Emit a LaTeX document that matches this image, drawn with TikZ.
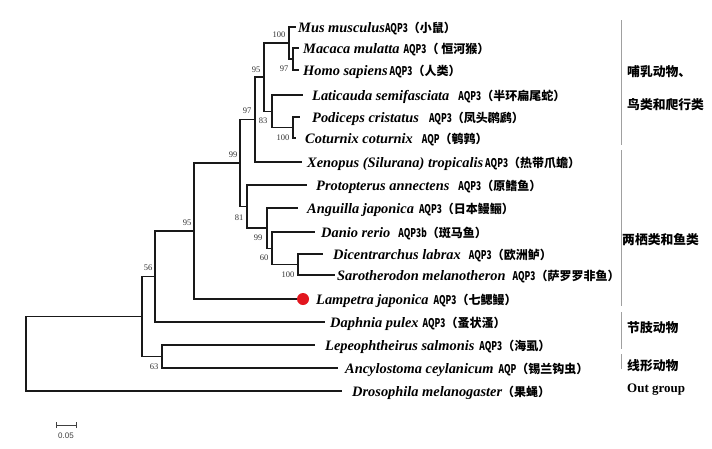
\documentclass[tikz,border=0pt]{standalone}
\usepackage{fontspec}
\setmainfont{Liberation Serif}
\newfontfamily\cjk{Noto Sans CJK SC}
\newfontfamily\lsans{Liberation Sans}
\newcommand\spn[1]{{\fontsize{14.4}{16}\selectfont\bfseries\itshape #1}}
\newcommand\aqp[1]{{\fontsize{12}{13}\selectfont\cjk\bfseries\scalebox{0.7}[1]{#1}}}
\newcommand\zhn[1]{{\fontsize{12}{13}\selectfont\cjk\bfseries #1}}
\definecolor{dotred}{RGB}{226,22,30}
\definecolor{brgray}{RGB}{160,160,160}
\begin{document}
\begin{tikzpicture}[x=1pt,y=-1pt,
  br/.style={line width=1.2pt, black!90},
  leaf/.style={anchor=base west, inner sep=0pt},
  bs/.style={font=\fontsize{8.5}{9}\selectfont, inner sep=0pt, text=black!80},
  grp/.style={anchor=west, inner sep=0pt, font=\cjk\bfseries\fontsize{12.8}{14}\selectfont},
  brk/.style={line width=0.8pt, brgray}]
\useasboundingbox[fill=white] (0,0) rectangle (712,448);

% internal nodes
\coordinate (root) at (26,353.75);
\coordinate (n56) at (142,316.5);
\coordinate (n95b) at (155,276.5);
\coordinate (n63) at (162,356.5);
\coordinate (n95a) at (194,231);
\coordinate (n99) at (240,163);
\coordinate (n97) at (255,119.5);
\coordinate (n95u) at (264,77);
\coordinate (n100m) at (289,43);
\coordinate (n97m) at (293,59);
\coordinate (n83) at (272,111.25);
\coordinate (n100b) at (293,127.5);
\coordinate (n81) at (247,206.5);
\coordinate (n99f) at (267,228);
\coordinate (n60) at (272,248.25);
\coordinate (n100f) at (298,264.5);

% tips
\coordinate (eMus) at (296,27);
\coordinate (eMac) at (299,48);
\coordinate (eHom) at (299,70);
\coordinate (eLat) at (303,95);
\coordinate (ePod) at (300,117);
\coordinate (eCot) at (296,138);
\coordinate (eXen) at (302,162);
\coordinate (ePro) at (307,185);
\coordinate (eAng) at (298,208);
\coordinate (eDan) at (315,232);
\coordinate (eDic) at (323,254);
\coordinate (eSar) at (335,275);
\coordinate (eDap) at (325,322);
\coordinate (eLep) at (315,345);
\coordinate (eAnc) at (338,368);
\coordinate (eDro) at (342,391);
\node[circle, fill=dotred, inner sep=0pt, minimum size=12pt] (dot) at (303,299) {};

% branches
\draw[br] (root) |- (n56);
\draw[br] (root) |- (eDro);
\draw[br] (n56) |- (n95b);
\draw[br] (n56) |- (n63);
\draw[br] (n95b) |- (n95a);
\draw[br] (n95b) |- (eDap);
\draw[br] (n63) |- (eLep);
\draw[br] (n63) |- (eAnc);
\draw[br] (n95a) |- (n99);
\draw[br] (n95a) |- (dot.west);
\draw[br] (n99) |- (n97);
\draw[br] (n99) |- (n81);
\draw[br] (n97) |- (n95u);
\draw[br] (n97) |- (eXen);
\draw[br] (n95u) |- (n100m);
\draw[br] (n95u) |- (n83);
\draw[br] (n100m) |- (eMus);
\draw[br] (n100m) |- (n97m);
\draw[br] (n97m) |- (eMac);
\draw[br] (n97m) |- (eHom);
\draw[br] (n83) |- (eLat);
\draw[br] (n83) |- (n100b);
\draw[br] (n100b) |- (ePod);
\draw[br] (n100b) |- (eCot);
\draw[br] (n81) |- (ePro);
\draw[br] (n81) |- (n99f);
\draw[br] (n99f) |- (eAng);
\draw[br] (n99f) |- (n60);
\draw[br] (n60) |- (eDan);
\draw[br] (n60) |- (n100f);
\draw[br] (n100f) |- (eDic);
\draw[br] (n100f) |- (eSar);

% bootstrap values
\node[bs] (b1) at (279,35) {100};
\node[bs] (b2) at (284,69) {97};
\node[bs] (b3) at (256,70) {95};
\node[bs] (b4) at (263,121) {83};
\node[bs] (b5) at (283,138) {100};
\node[bs] (b6) at (247,111) {97};
\node[bs] (b7) at (233,155) {99};
\node[bs] (b8) at (239,218) {81};
\node[bs] (b9) at (258,238) {99};
\node[bs] (b10) at (264,258) {60};
\node[bs] (b11) at (288,275) {100};
\node[bs] (b12) at (187,223) {95};
\node[bs] (b13) at (148,268) {56};
\node[bs] (b14) at (154,367) {63};

% leaf labels
\node[leaf] (tMus) at (298,32) {\spn{Mus musculus}\aqp{AQP3}\zhn{（小鼠）}};
\node[leaf] (tMac) at (303,53) {\spn{Macaca mulatta}\hspace{4pt}\aqp{AQP3}\zhn{（ 恒河猴）}};
\node[leaf] (tHom) at (303,75) {\spn{Homo sapiens}\hspace{2pt}\aqp{AQP3}\zhn{（人类）}};
\node[leaf] (tLat) at (312,100) {\spn{Laticauda semifasciata}\hspace{9pt}\aqp{AQP3}\zhn{（半环扁尾蛇）}};
\node[leaf] (tPod) at (312,122) {\spn{Podiceps cristatus}\hspace{10pt}\aqp{AQP3}\zhn{（凤头䴙䴘）}};
\node[leaf] (tCot) at (305,143) {\spn{Coturnix coturnix}\hspace{9pt}\aqp{AQP}\zhn{（鹌鹑）}};
\node[leaf] (tXen) at (307,167) {\spn{Xenopus (Silurana) tropicalis}\hspace{2pt}\aqp{AQP3}\zhn{（热带爪蟾）}};
\node[leaf] (tPro) at (316,190) {\spn{Protopterus annectens}\hspace{9pt}\aqp{AQP3}\zhn{（原鳍鱼）}};
\node[leaf] (tAng) at (307,213) {\spn{Anguilla japonica}\hspace{5pt}\aqp{AQP3}\zhn{（日本鳗鲡）}};
\node[leaf] (tDan) at (321,237) {\spn{Danio rerio}\hspace{8pt}\aqp{AQP3b}\zhn{（斑马鱼）}};
\node[leaf] (tDic) at (333,259) {\spn{Dicentrarchus labrax}\hspace{8pt}\aqp{AQP3}\zhn{（欧洲鲈）}};
\node[leaf] (tSar) at (337,280) {\spn{Sarotherodon melanotheron}\hspace{7pt}\aqp{AQP3}\zhn{（萨罗罗非鱼）}};
\node[leaf] (tLam) at (316,304) {\spn{Lampetra japonica}\hspace{5pt}\aqp{AQP3}\zhn{（七鳃鳗）}};
\node[leaf] (tDap) at (330,327) {\spn{Daphnia pulex}\hspace{4pt}\aqp{AQP3}\zhn{（蚤状溞）}};
\node[leaf] (tLep) at (325,350) {\spn{Lepeophtheirus salmonis}\hspace{5pt}\aqp{AQP3}\zhn{（海虱）}};
\node[leaf] (tAnc) at (345,373) {\spn{Ancylostoma ceylanicum}\hspace{5pt}\aqp{AQP}\zhn{（锡兰钩虫）}};
\node[leaf] (tDro) at (352,396) {\spn{Drosophila melanogaster}\zhn{（果蝇）}};

% group brackets
\draw[brk] (621,20) -- (621,145);
\draw[brk] (621,150) -- (621,306);
\draw[brk] (621,312) -- (621,349);
\draw[brk] (621,354) -- (621,369);
\node[grp] (g1) at (627,72) {哺乳动物、};
\node[grp] (g2) at (627,105) {鸟类和爬行类};
\node[grp] (g3) at (622,240) {两栖类和鱼类};
\node[grp] (g4) at (627,328) {节肢动物};
\node[grp] (g5) at (627,366) {线形动物};
\node[anchor=west, inner sep=0pt, font=\bfseries\fontsize{13}{14}\selectfont] (g6) at (627,390) {Out group};

% scale bar
\coordinate (sbL) at (56,425);
\coordinate (sbR) at (76,425);
\draw[line width=0.8pt, black!75] (sbL) -- (sbR);
\draw[line width=0.8pt, black!75] ([yshift=-3pt]sbL) -- ([yshift=3pt]sbL);
\draw[line width=0.8pt, black!75] ([yshift=-3pt]sbR) -- ([yshift=3pt]sbR);
\node[inner sep=0pt, font=\lsans\fontsize{8}{9}\selectfont, text=black!75] (sbt) at (66,436) {0.05};
\end{tikzpicture}
\end{document}
